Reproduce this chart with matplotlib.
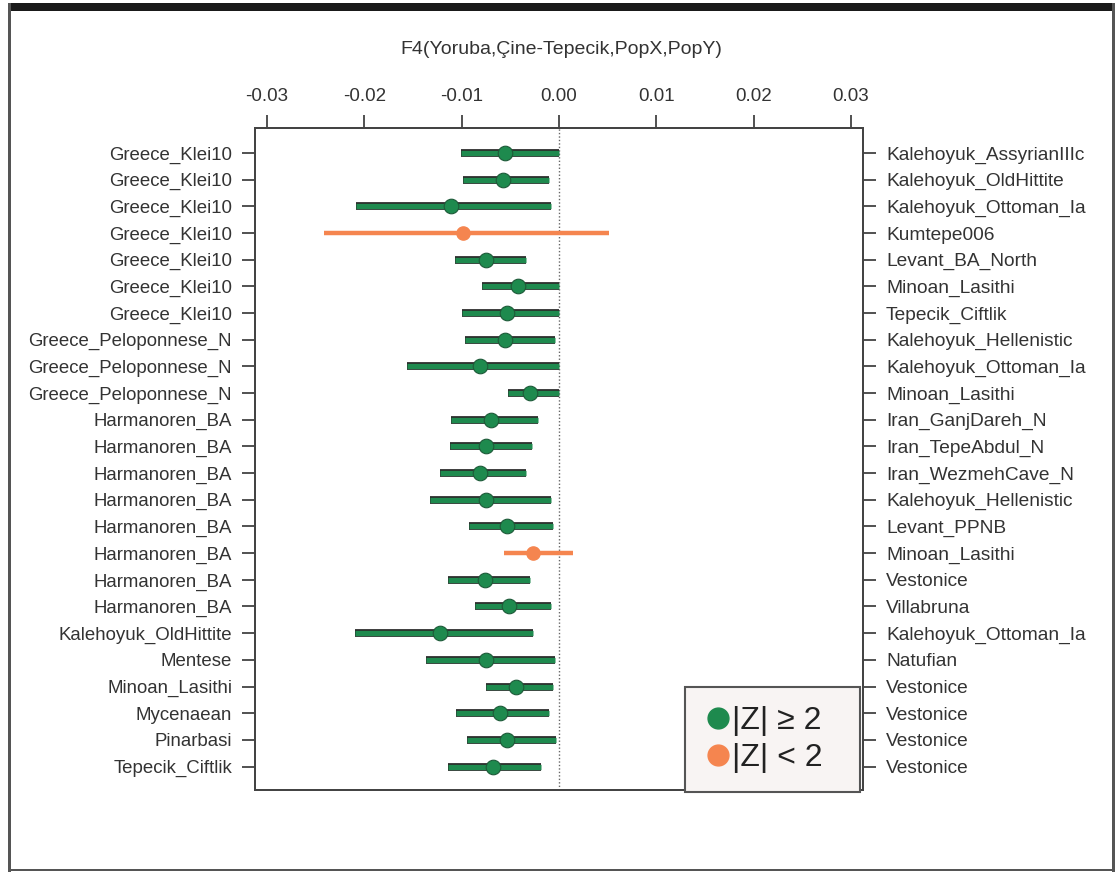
import matplotlib
matplotlib.use('Agg')
import matplotlib.pyplot as plt
from matplotlib.lines import Line2D
from matplotlib.patches import Rectangle

plt.rcParams['font.family'] = ['Liberation Sans', 'DejaVu Sans']

left_labels = ["Greece_Klei10"] * 7 + ["Greece_Peloponnese_N"] * 3 + ["Harmanoren_BA"] * 8 + [
    "Kalehoyuk_OldHittite", "Mentese", "Minoan_Lasithi", "Mycenaean", "Pinarbasi", "Tepecik_Ciftlik"]
right_labels = ["Kalehoyuk_AssyrianIIIc", "Kalehoyuk_OldHittite", "Kalehoyuk_Ottoman_Ia", "Kumtepe006",
                "Levant_BA_North", "Minoan_Lasithi", "Tepecik_Ciftlik", "Kalehoyuk_Hellenistic",
                "Kalehoyuk_Ottoman_Ia", "Minoan_Lasithi", "Iran_GanjDareh_N", "Iran_TepeAbdul_N",
                "Iran_WezmehCave_N", "Kalehoyuk_Hellenistic", "Levant_PPNB", "Minoan_Lasithi",
                "Vestonice", "Villabruna", "Kalehoyuk_Ottoman_Ia", "Natufian", "Vestonice",
                "Vestonice", "Vestonice", "Vestonice"]
est = [-0.0055, -0.0058, -0.0111, -0.0099, -0.0075, -0.0042, -0.0053, -0.0055, -0.0081, -0.0030,
       -0.0070, -0.0075, -0.0081, -0.0075, -0.0053, -0.0027, -0.0076, -0.0051, -0.0122, -0.0075,
       -0.0044, -0.0061, -0.0053, -0.0068]
lo = [-0.0101, -0.0099, -0.0209, -0.0241, -0.0107, -0.0079, -0.0100, -0.0097, -0.0156, -0.0052,
      -0.0111, -0.0112, -0.0122, -0.0133, -0.0092, -0.0057, -0.0114, -0.0086, -0.0210, -0.0137,
      -0.0075, -0.0106, -0.0094, -0.0114]
hi = [0.0000, -0.0010, -0.0008, 0.0051, -0.0034, 0.0000, 0.0000, -0.0004, 0.0000, 0.0000,
      -0.0022, -0.0028, -0.0034, -0.0008, -0.0006, 0.0014, -0.0030, -0.0008, -0.0027, -0.0004,
      -0.0006, -0.0010, -0.0003, -0.0018]
z_significant = [True, True, True, False, True, True, True, True, True, True, True, True,
                 True, True, True, False, True, True, True, True, True, True, True, True]
xticks = [-0.03, -0.02, -0.01, 0.00, 0.01, 0.02, 0.03]
xtick_labels = ["-0.03", "-0.02", "-0.01", "0.00", "0.01", "0.02", "0.03"]
title = "F4(Yoruba,Çine-Tepecik,PopX,PopY)"
legend_labels = ["|Z| ≥ 2", "|Z| < 2"]

GREEN = "#1e8a4e"
ORANGE = "#f5854f"
TXT = "#333333"

W, H = 1117, 873
fig = plt.figure(figsize=(W / 100, H / 100), dpi=100)
fig.patch.set_facecolor('white')

ax = fig.add_axes([255 / W, 1 - 790 / H, (863 - 255) / W, (790 - 128) / H])
n = len(est)
ys = list(range(1, n + 1))

ax.axvline(0, color='#666666', lw=1.0, ls=(0, (1, 1.5)), zorder=1)
for y, e, l, h, s in zip(ys, est, lo, hi, z_significant):
    if s:
        ax.hlines(y, l, h, color='#2b2b2b', lw=5.6, zorder=2, capstyle='butt')
        ax.hlines(y, l, h, color=GREEN, lw=3.8, zorder=3, capstyle='butt')
        ax.plot([e], [y], 'o', color=GREEN, ms=10.5, mec='#1d5a38', mew=0.8, zorder=4)
    else:
        ax.hlines(y, l, h, color=ORANGE, lw=3.2, zorder=3)
        ax.plot([e], [y], 'o', color=ORANGE, ms=9.5, mec=ORANGE, zorder=4)

ax.set_xlim(-0.03123, 0.03123)
ax.set_ylim(n + 0.88, 1 - 0.94)
ax.set_yticks(ys)
ax.set_yticklabels(left_labels, fontsize=13.4, color=TXT)
ax.xaxis.tick_top()
ax.set_xticks(xticks)
ax.set_xticklabels(xtick_labels, fontsize=13.5, color=TXT)
ax.tick_params(axis='x', direction='out', length=9.5, width=1.2, color='#333333', pad=7)
ax.tick_params(axis='y', direction='out', length=9.5, width=1.2, color='#333333', pad=7)

ax2 = ax.twinx()
ax2.set_ylim(ax.get_ylim())
ax2.set_yticks(ys)
ax2.set_yticklabels(right_labels, fontsize=13.8, color=TXT)
ax2.tick_params(axis='y', direction='out', length=9.5, width=1.2, color='#333333', pad=7)

for a in (ax, ax2):
    for sp in a.spines.values():
        sp.set_color('#444444')
        sp.set_linewidth(1.4)

handles = [Line2D([], [], marker='o', ls='none', color=GREEN, ms=15),
           Line2D([], [], marker='o', ls='none', color=ORANGE, ms=15)]
leg = ax2.legend(handles, [lab + "  " for lab in legend_labels], loc='lower right',
                 bbox_to_anchor=(860 / W, 1 - 792 / H), bbox_transform=fig.transFigure,
                 fontsize=23, frameon=True, fancybox=False, framealpha=1,
                 facecolor='#f8f4f3', edgecolor='#555555', handletextpad=0.0,
                 handlelength=0.9, borderpad=0.6, labelspacing=0.22, borderaxespad=0.0)
leg.get_frame().set_linewidth(1.5)
for t in leg.get_texts():
    t.set_color('#222222')

fig.text(561 / W, 1 - 50 / H, title, ha='center', va='center', fontsize=14, color=TXT)

# outer frame
def px_rect(x0, y0, x1, y1, **kw):
    fig.add_artist(Rectangle((x0 / W, 1 - y1 / H), (x1 - x0) / W, (y1 - y0) / H,
                             transform=fig.transFigure, **kw))

px_rect(8, 3, 1115, 11, color='#1a1a1a', lw=0)
px_rect(8, 3, 10.5, 872, color='#555555', lw=0)
px_rect(1112, 3, 1114.5, 872, color='#555555', lw=0)
px_rect(8, 868.5, 1114.5, 871, color='#555555', lw=0)

fig.savefig('out.png', dpi=100)
